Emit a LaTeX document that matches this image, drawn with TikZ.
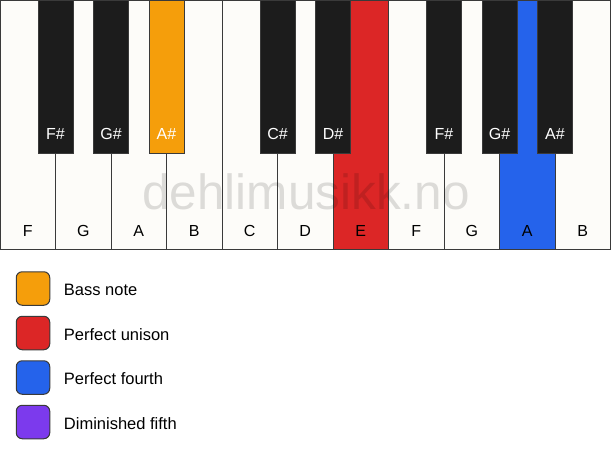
\documentclass[tikz,border=0pt]{standalone}
\usepackage{fontspec}
\setmainfont{Liberation Sans}
\usetikzlibrary{positioning}
\definecolor{keywhite}{HTML}{FDFCF9}
\definecolor{keyblack}{HTML}{1C1C1C}
\definecolor{keyedge}{HTML}{3A3A3A}
\definecolor{bass}{HTML}{F59E0B}
\definecolor{unison}{HTML}{DC2626}
\definecolor{fourth}{HTML}{2563EB}
\definecolor{fifth}{HTML}{7C3AED}
\tikzset{
  whitekey/.style={rectangle,draw=keyedge,line width=1pt,minimum width=55.5pt,
    minimum height=249pt,inner sep=0pt,outer sep=0pt,anchor=north west},
  blackkey/.style={rectangle,draw=keyedge,line width=1pt,minimum width=35pt,
    minimum height=153pt,inner sep=0pt,outer sep=0pt,anchor=north},
  keyname/.style={font=\fontsize{16}{19}\selectfont,inner sep=0pt,anchor=base},
  swatch/.style={rectangle,rounded corners=6pt,draw=keyedge,line width=1pt,
    minimum size=33.5pt,inner sep=0pt,outer sep=0pt},
  legendtext/.style={font=\fontsize{16.5}{19}\selectfont,inner sep=0pt,
    right=14pt of #1,yshift=-1.5pt}
}
\begin{document}
\begin{tikzpicture}[x=1pt,y=-1pt]
\useasboundingbox (0,0) rectangle (611,461);
% white keys
\foreach \l/\f [count=\i from 0] in {F/keywhite,G/keywhite,A/keywhite,B/keywhite,C/keywhite,D/keywhite,E/unison,F/keywhite,G/keywhite,A/fourth,B/keywhite}
{
\node[whitekey,fill=\f] (w\i) at (55.5*\i,0) {};
\node[keyname] (n\i) at (55.5*\i+27.75,236) {\l};
}
% black keys
\foreach \k/\l/\f in {1/F/keyblack,2/G/keyblack,3/A/bass,5/C/keyblack,6/D/keyblack,8/F/keyblack,9/G/keyblack,10/A/keyblack}
{
\node[blackkey,fill=\f] (b\k) at (55.5*\k,0) {};
\node[keyname,text=white] (m\k) at (55.5*\k,139) {\l\#};
}
\node[font=\fontsize{49.5}{50}\selectfont,text=black,text opacity=.13,anchor=base] (mark) at (306,209) {dehlimusikk.no};
% legend
\node[swatch,fill=bass] (s1) at (33,288.5) {};
\node[legendtext=s1] (t1) {Bass note};
\node[swatch,fill=unison] (s2) at (33,333) {};
\node[legendtext=s2] (t2) {Perfect unison};
\node[swatch,fill=fourth] (s3) at (33,377.5) {};
\node[legendtext=s3] (t3) {Perfect fourth};
\node[swatch,fill=fifth] (s4) at (33,422) {};
\node[legendtext=s4] (t4) {Diminished fifth};
\end{tikzpicture}
\end{document}
